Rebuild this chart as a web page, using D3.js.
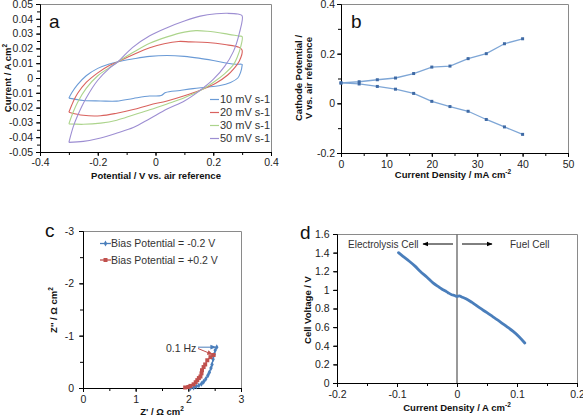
<!DOCTYPE html>
<html><head><meta charset="utf-8">
<script src="https://cdn.jsdelivr.net/npm/d3@7"></script>
<style>
body{margin:0;background:#fff}
text{font-family:"Liberation Sans",Arial,sans-serif}
</style>
</head><body>
<svg id="fig" width="583" height="416"></svg>
<script>
// ---------- DATA ----------
// Panel a: cyclic voltammograms [potential V, current A cm-2]
const cvLabels = ["10 mV s-1","20 mV s-1","30 mV s-1","50 mV s-1"];
const cv10 = [[-0.3,-0.0136],[-0.29,-0.01],[-0.27,-0.0045],[-0.24,0.0015],[-0.2,0.0065],[-0.16,0.0095],[-0.13,0.011],[-0.08,0.0128],[-0.02,0.0146],[0.04,0.0152],[0.1,0.0146],[0.15,0.0134],[0.2,0.0118],[0.25,0.0100],[0.28,0.0093],[0.3,0.0092],
  [0.3,0.0085],[0.295,0.004],[0.285,0.0],[0.26,-0.003],[0.22,-0.0052],[0.177,-0.0062],[0.13,-0.0072],[0.085,-0.0084],[0.035,-0.0098],[0.02,-0.0118],[-0.02,-0.0122],[-0.077,-0.0138],[-0.134,-0.0156],[-0.19,-0.0155],[-0.25,-0.0152],[-0.3,-0.0136]];
const cv20 = [[-0.3,-0.0231],[-0.285,-0.016],[-0.27,-0.0105],[-0.24,-0.003],[-0.2,0.0035],[-0.16,0.0085],[-0.13,0.011],[-0.08,0.0155],[-0.02,0.0204],[0.03,0.0232],[0.08,0.0247],[0.12,0.0244],[0.18,0.024],[0.24,0.0226],[0.29,0.0207],
  [0.3,0.0188],[0.29,0.0113],[0.27,0.006],[0.25,0.002],[0.21,-0.0034],[0.155,-0.0082],[0.1,-0.012],[0.04,-0.0155],[-0.02,-0.0182],[-0.077,-0.0213],[-0.134,-0.0238],[-0.19,-0.0255],[-0.25,-0.0252],[-0.3,-0.0231]];
const cv30 = [[-0.3,-0.031],[-0.285,-0.023],[-0.27,-0.0165],[-0.24,-0.007],[-0.2,0.0015],[-0.16,0.007],[-0.13,0.011],[-0.08,0.017],[-0.02,0.0235],[0.04,0.0278],[0.1,0.031],[0.14,0.032],[0.18,0.0316],[0.24,0.0300],[0.29,0.0283],
  [0.3,0.028],[0.295,0.021],[0.285,0.015],[0.27,0.009],[0.24,0.003],[0.2,-0.003],[0.155,-0.0085],[0.1,-0.0133],[0.04,-0.0175],[-0.02,-0.0215],[-0.077,-0.025],[-0.134,-0.0285],[-0.19,-0.0305],[-0.25,-0.0313],[-0.3,-0.031]];
const cv50 = [[-0.3,-0.0435],[-0.285,-0.033],[-0.27,-0.0255],[-0.24,-0.0135],[-0.2,-0.0015],[-0.16,0.0065],[-0.13,0.011],[-0.08,0.0205],[-0.02,0.0285],[0.04,0.034],[0.1,0.0385],[0.155,0.0418],[0.21,0.0434],[0.25,0.0437],[0.285,0.0432],
  [0.3,0.042],[0.29,0.03],[0.27,0.018],[0.24,0.008],[0.2,-0.001],[0.15,-0.009],[0.1,-0.0155],[0.04,-0.021],[-0.02,-0.0275],[-0.077,-0.0335],[-0.13,-0.037],[-0.19,-0.0405],[-0.25,-0.0428],[-0.3,-0.0435]];
const cvColors = ["#6b9bd6","#d9625e","#acd48c","#9d8ed2"];

// Panel b: cathode potential vs current density
const currentDensityB = [0,4,8,12,16,20,24,28,32,36,40];
const cathodeUpper = [0.082,0.087,0.095,0.102,0.12,0.146,0.15,0.18,0.2,0.24,0.26];
const cathodeLower = [0.082,0.078,0.068,0.057,0.04,0.008,-0.013,-0.032,-0.065,-0.095,-0.125];

// Panel c: impedance
const biasLabels = ["Bias Potential = -0.2 V","Bias Potential = +0.2 V"];
const zReNeg = [2.04,2.10,2.15,2.20,2.25,2.29,2.33,2.37,2.40,2.43,2.45,2.47,2.49,2.51,2.54];
const zImNeg = [0,-0.01,-0.03,-0.05,-0.08,-0.12,-0.17,-0.24,-0.30,-0.38,-0.45,-0.55,-0.64,-0.72,-0.78];
const zRePos = [1.94,2.00,2.04,2.10,2.14,2.17,2.20,2.23,2.25,2.26,2.29,2.32,2.36,2.42,2.48];
const zImPos = [-0.01,-0.02,-0.04,-0.07,-0.11,-0.15,-0.19,-0.22,-0.28,-0.34,-0.40,-0.45,-0.53,-0.59,-0.63];

// Panel d: cell voltage vs current density
const currentDensityD = [-0.0975,-0.09,-0.08,-0.07,-0.0615,-0.05,-0.04,-0.03,-0.0254,-0.02,-0.015,-0.0088,-0.004,0,0.004,0.0078,0.015,0.025,0.038,0.05,0.06,0.0715,0.082,0.0936,0.103,0.113];
const cellVoltage = [1.40,1.36,1.31,1.255,1.20,1.135,1.075,1.03,1.01,0.99,0.97,0.948,0.94,0.93,0.935,0.924,0.905,0.865,0.806,0.755,0.71,0.66,0.61,0.554,0.50,0.43];

// ---------- DRAWING ----------
const svg = d3.select("#fig");
const fmt = d => String(+(+d).toFixed(3));

function axes(x, y, o){
  const [x0,x1] = x.range(), [yb,yt] = y.range();
  const g = svg.append("g");
  g.append("path").attr("d",`M${x0},${yt+0.5}H${x1+0.5}V${yb}`).attr("fill","none").attr("stroke","#8a8a8a").attr("stroke-width",1);
  const bx = g.append("g").attr("transform",`translate(0,${yb})`);
  bx.call(d3.axisBottom(x).tickValues(o.xMinor).tickSize(3).tickSizeOuter(0).tickFormat(""));
  bx.append("g").call(d3.axisBottom(x).tickValues(o.xMajor).tickSize(4).tickSizeOuter(0).tickPadding(o.xPad).tickFormat(fmt));
  const ly = g.append("g").attr("transform",`translate(${x0},0)`);
  ly.call(d3.axisLeft(y).tickValues(o.yMinor).tickSize(3).tickSizeOuter(0).tickFormat(""));
  ly.append("g").call(d3.axisLeft(y).tickValues(o.yMajor).tickSize(4).tickSizeOuter(0).tickPadding(o.yPad).tickFormat(fmt));
  g.selectAll(".domain,.tick line").attr("stroke","#000");
  g.selectAll(".tick text").attr("font-size","10.5px").attr("fill","#222").attr("font-family","Liberation Sans, Arial, sans-serif");
  return g;
}
function title(txt, sup, x, y, rot, size){
  const t = svg.append("text").attr("font-weight","bold").attr("font-size",(size||9.5)+"px").attr("fill","#111")
    .attr("text-anchor","middle").attr("transform",`translate(${x},${y})${rot?" rotate(-90)":""}`);
  t.append("tspan").text(txt);
  if (sup) t.append("tspan").attr("font-size","6.5px").attr("dy","-4").text(sup);
  return t;
}
function letter(t,x,y){ svg.append("text").attr("x",x).attr("y",y).attr("font-size","19px").attr("fill","#111").attr("font-family","Carlito, Lato, sans-serif").text(t); }
function arrowHead(id,color){
  svg.append("defs").append("marker").attr("id",id).attr("viewBox","0 0 10 10").attr("refX",9).attr("refY",5)
    .attr("markerWidth",6).attr("markerHeight",6).attr("orient","auto")
    .append("path").attr("d","M0,1L10,5L0,9Z").attr("fill",color);
}

// ---- Panel a ----
{
  const x = d3.scaleLinear().domain([-0.4,0.4]).range([40,271]);
  const y = d3.scaleLinear().domain([-0.05,0.05]).range([152,4]);
  axes(x,y,{xMajor:d3.range(-0.4,0.41,0.2),xMinor:d3.range(-0.4,0.41,0.1),yMajor:d3.range(-0.05,0.051,0.01),yMinor:d3.range(-0.05,0.051,0.005),xPad:3,yPad:3});
  const line = d3.line().x(d=>x(d[0])).y(d=>y(d[1])).curve(d3.curveCatmullRom.alpha(0.5));
  [cv10,cv20,cv30,cv50].forEach((s,i)=>{
    svg.append("path").attr("d",line(s)).attr("fill","none").attr("stroke",cvColors[i]).attr("stroke-width",1.1);
  });
  cvLabels.forEach((l,i)=>{
    const yy = 99.5 + i*13;
    svg.append("line").attr("x1",210).attr("x2",219).attr("y1",yy).attr("y2",yy).attr("stroke",cvColors[i]).attr("stroke-width",1.2);
    svg.append("text").attr("x",220).attr("y",yy).attr("dy","0.35em").attr("font-size","11px").attr("fill","#333").text(l);
  });
  letter("a",49,28);
  title("Potential / V vs. air reference",null,156,178.5,false);
  title("Current / A cm","2",11,78,true);
}

// ---- Panel b ----
{
  const x = d3.scaleLinear().domain([0,50]).range([341,568]);
  const y = d3.scaleLinear().domain([-0.2,0.4]).range([153,4]);
  axes(x,y,{xMajor:d3.range(0,51,10),xMinor:d3.range(0,51,5),yMajor:d3.range(-0.2,0.41,0.2),yMinor:d3.range(-0.2,0.41,0.1),xPad:3.5,yPad:2});
  const line = d3.line().x((d,i)=>x(currentDensityB[i])).y(d=>y(d));
  [cathodeUpper,cathodeLower].forEach(s=>{
    svg.append("path").attr("d",line(s)).attr("fill","none").attr("stroke","#7ea6d6").attr("stroke-width",1.3);
    svg.append("g").selectAll("rect").data(s).join("rect")
      .attr("x",(d,i)=>x(currentDensityB[i])-1.5).attr("y",d=>y(d)-1.5).attr("width",3).attr("height",3).attr("fill","#3f6aa5");
  });
  letter("b",351,28);
  title("Current Density / mA cm","-2",453,178,false);
  title("Cathode Potential /",null,302,78,true);
  title("V vs. air reference",null,312,78,true);
}

// ---- Panel c ----
{
  const x = d3.scaleLinear().domain([0,3]).range([83,241]);
  const y = d3.scaleLinear().domain([0,-3]).range([388,231]);
  axes(x,y,{xMajor:[0,1,2,3],xMinor:d3.range(0,3.01,0.5),yMajor:[0,-1,-2,-3],yMinor:d3.range(-3,0.01,0.5),xPad:4,yPad:5});
  const series = [[zReNeg,zImNeg,"#4a7ebb","diamond"],[zRePos,zImPos,"#c0504d","square"]];
  series.forEach(([xs,ys,c,m])=>{
    const line = d3.line().x((d,i)=>x(xs[i])).y(d=>y(d));
    svg.append("path").attr("d",line(ys)).attr("fill","none").attr("stroke",c).attr("stroke-width",1.3);
    const sym = d3.symbol().type(m==="diamond"?d3.symbolDiamond:d3.symbolSquare).size(m==="diamond"?10:16);
    svg.append("g").selectAll("path").data(ys).join("path").attr("d",sym)
      .attr("transform",(d,i)=>`translate(${x(xs[i])},${y(d)})`).attr("fill",c);
  });
  biasLabels.forEach((l,i)=>{
    const yy = 243.5 + i*16.5, c = series[i][2];
    svg.append("line").attr("x1",100).attr("x2",111).attr("y1",yy).attr("y2",yy).attr("stroke",c).attr("stroke-width",1.3);
    svg.append("path").attr("d",d3.symbol().type(i?d3.symbolSquare:d3.symbolDiamond).size(i?16:10)).attr("transform",`translate(105.5,${yy})`).attr("fill",c);
    svg.append("text").attr("x",111).attr("y",yy).attr("dy","0.35em").attr("font-size","10.5px").attr("fill","#333").text(l);
  });
  svg.append("text").attr("x",166).attr("y",348).attr("dy","0.35em").attr("font-size","10.5px").attr("fill","#333").text("0.1 Hz");
  arrowHead("ab","#4a7ebb"); arrowHead("ar","#c0504d");
  const nl = zReNeg.length-1, pl = zRePos.length-1;
  svg.append("line").attr("x1",198).attr("y1",y(zImNeg[nl])).attr("x2",x(zReNeg[nl])-1).attr("y2",y(zImNeg[nl])).attr("stroke","#4a7ebb").attr("marker-end","url(#ab)");
  svg.append("line").attr("x1",198).attr("y1",348.5).attr("x2",x(zRePos[pl])-1).attr("y2",y(zImPos[pl])-0.5).attr("stroke","#c0504d").attr("marker-end","url(#ar)");
  letter("c",45,237);
  title("Z'' / Ω cm","2",57,310,true);
  title("Z' / Ω cm","2",162,415,false);
}

// ---- Panel d ----
{
  const x = d3.scaleLinear().domain([-0.2,0.2]).range([337,577]);
  const y = d3.scaleLinear().domain([0,1.6]).range([383,234]);
  axes(x,y,{xMajor:d3.range(-0.2,0.21,0.1),xMinor:d3.range(-0.2,0.21,0.05),yMajor:d3.range(0,1.61,0.2),yMinor:d3.range(0,1.61,0.2),xPad:3.5,yPad:3.5});
  svg.append("line").attr("x1",x(0)).attr("x2",x(0)).attr("y1",234).attr("y2",383).attr("stroke","#777").attr("stroke-width",1.5);
  const line = d3.line().x((d,i)=>x(currentDensityD[i])).y(d=>y(d)).curve(d3.curveCatmullRom.alpha(0.5));
  svg.append("path").attr("d",line(cellVoltage)).attr("fill","none").attr("stroke","#4a7ebb").attr("stroke-width",2.8).attr("stroke-linecap","round");
  arrowHead("ak","#000");
  svg.append("line").attr("x1",453).attr("x2",423).attr("y1",244).attr("y2",244).attr("stroke","#000").attr("marker-end","url(#ak)");
  svg.append("line").attr("x1",462).attr("x2",492).attr("y1",244).attr("y2",244).attr("stroke","#000").attr("marker-end","url(#ak)");
  svg.append("text").attr("x",348).attr("y",244).attr("dy","0.35em").attr("font-size","10px").attr("fill","#333").text("Electrolysis Cell");
  svg.append("text").attr("x",510).attr("y",244).attr("dy","0.35em").attr("font-size","10px").attr("fill","#333").text("Fuel Cell");
  letter("d",300,239);
  title("Current Density / A cm","-2",457,410.5,false);
  title("Cell Voltage / V",null,311,310,true);
}
</script>
</body></html>
